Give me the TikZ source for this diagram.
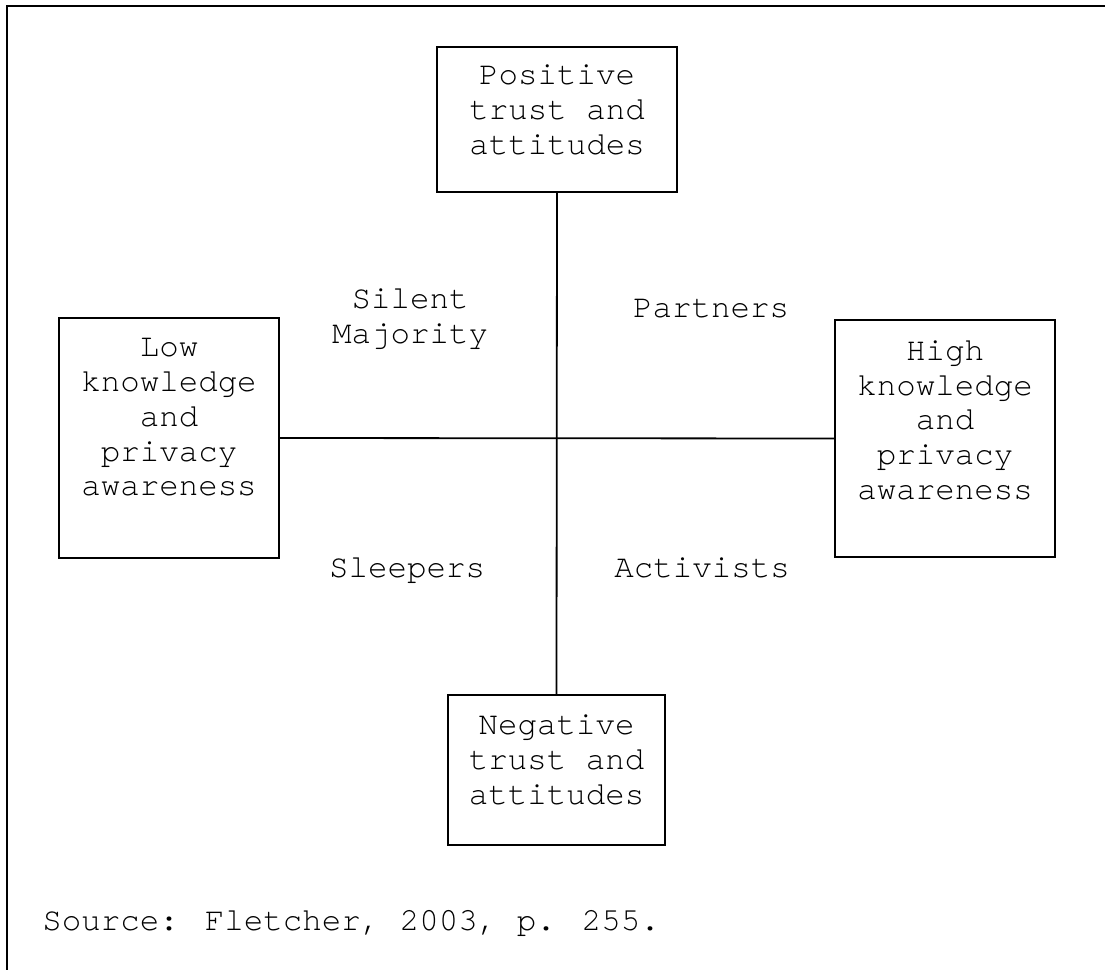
\documentclass[tikz,border=0pt]{standalone}
\usepackage{fontspec}
\setmainfont{TeX Gyre Cursor}
\begin{document}
\begin{tikzpicture}[x=0.5pt,y=-0.5pt,
  box/.style={draw, line width=0.9pt, inner sep=0pt},
  txt/.style={inner sep=0pt, align=center, font=\fontsize{16.25}{17.4}\selectfont},
  rule/.style={line width=0.9pt}]
\useasboundingbox (0,0) rectangle (1105,970);
% frame edges
\draw[rule] (7,970) -- (7,6) -- (1105,6);

% the four boxes
\node[box, minimum width=120pt, minimum height=72.5pt] (pos) at (557,119.5) {};
\node[box, minimum width=110pt, minimum height=120pt] (low) at (169,438) {};
\node[box, minimum width=110pt, minimum height=118.5pt] (high) at (945,438.5) {};
\node[box, minimum width=108.5pt, minimum height=75pt] (neg) at (556.5,770) {};

% box texts
\node[txt, anchor=north] (posT) at (557,64.5) {Positive\\trust and\\attitudes};
\node[txt, anchor=north] (lowT) at (169,338) {Low\\knowledge\\and\\privacy\\awareness};
\node[txt, anchor=north] (highT) at (945,340) {High\\knowledge\\and\\privacy\\awareness};
\node[txt, anchor=north] (negT) at (556.5,714.5) {Negative\\trust and\\attitudes};

% axes
\draw[rule] (pos.south) -- (neg.north);
\draw[rule] (low.east) -- (high.west);

% quadrant labels
\node[txt, anchor=north] (silent) at (410,288.5) {Silent\\Majority};
\node[txt, anchor=base] (partners) at (711,317) {Partners};
\node[txt, anchor=base] (sleepers) at (407,577) {Sleepers};
\node[txt, anchor=base] (activists) at (702,577) {Activists};

% source line
\node[txt, anchor=base west] (source) at (42,930) {Source: Fletcher, 2003, p. 255.};
\end{tikzpicture}
\end{document}
